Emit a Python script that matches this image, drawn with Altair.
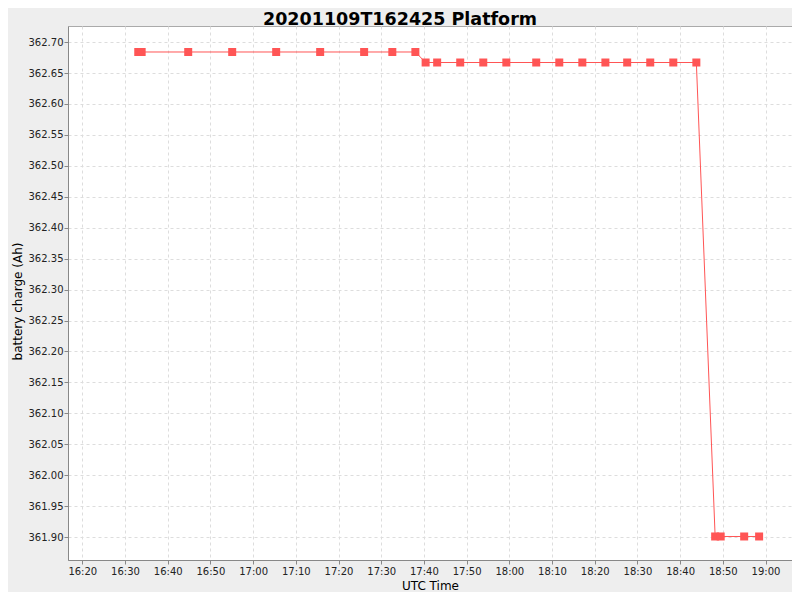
import altair as alt
import pandas as pd

title_text = "20201109T162425 Platform"
times = [
    "16:33:06", "16:33:54", "16:44:48", "16:55:06", "17:05:24", "17:15:42",
    "17:26:00", "17:32:36", "17:38:00", "17:40:24", "17:43:06", "17:48:30",
    "17:53:54", "17:59:18", "18:06:18", "18:11:42", "18:17:06", "18:22:30",
    "18:27:36", "18:33:00", "18:38:24", "18:43:48", "18:48:12", "18:49:30",
    "18:55:00", "18:58:30",
]
charge = [
    362.684, 362.684, 362.684, 362.684, 362.684, 362.684,
    362.684, 362.684, 362.684, 362.667, 362.667, 362.667,
    362.667, 362.667, 362.667, 362.667, 362.667, 362.667,
    362.667, 362.667, 362.667, 362.667, 361.901, 361.901,
    361.901, 361.901,
]
tick_minutes = [(16, 20), (16, 30), (16, 40), (16, 50), (17, 0), (17, 10),
                (17, 20), (17, 30), (17, 40), (17, 50), (18, 0), (18, 10),
                (18, 20), (18, 30), (18, 40), (18, 50), (19, 0)]
y_ticks = [361.90, 361.95, 362.00, 362.05, 362.10, 362.15, 362.20, 362.25,
           362.30, 362.35, 362.40, 362.45, 362.50, 362.55, 362.60, 362.65, 362.70]

df = pd.DataFrame({"t": ["2020-11-09T" + s + "Z" for s in times], "v": charge})
title_df = pd.DataFrame({"label": [title_text]})

def dt(h, m, s=0):
    return alt.DateTime(year=2020, month=11, date=9, hours=h, minutes=m, seconds=s, utc=True)

color = "#FF5555"
font = "DejaVu Sans"

x = alt.X(
    "t:T",
    scale=alt.Scale(type="utc", domain=[dt(16, 16, 39), dt(19, 6, 12)]),
    axis=alt.Axis(
        title="UTC Time", format="%H:%M", values=[dt(h, m) for h, m in tick_minutes],
        labelFlush=False, labelOverlap=False, labelPadding=2,
        titleY=29, titleBaseline="alphabetic",
    ),
)
y = alt.Y(
    "v:Q",
    scale=alt.Scale(domain=[361.863, 362.726], nice=False, zero=False),
    axis=alt.Axis(
        title="battery charge (Ah)", values=y_ticks, format=".2f", labelPadding=1,
        titleX=-47, titleY=275, titleAngle=-90, titleBaseline="alphabetic",
    ),
)

base = alt.Chart(df)
line = base.mark_line(color=color, strokeWidth=1, clip=True).encode(x=x, y=y)
pts = base.mark_point(shape="square", filled=True, size=64, color=color, opacity=1).encode(x=x, y=y)
title_mark = alt.Chart(title_df).mark_text(
    font=font, fontSize=17.5, fontWeight="bold", color="#000000",
    align="center", baseline="alphabetic",
).encode(x=alt.value(332), y=alt.value(-1.5), text="label:N")

chart = (
    alt.layer(line, pts, title_mark)
    .properties(
        width=724, height=534,
        padding={"left": 60, "top": 18, "right": 0, "bottom": 32},
        autosize=alt.AutoSizeParams(type="none"),
        background="#EEEEEE",
    )
    .configure_view(fill="white", stroke="#AAAAAA", strokeWidth=1)
    .configure_axis(
        grid=True, gridColor="#DDDDDD", gridDash=[3, 3], gridWidth=1,
        domainColor="#888888", tickColor="#888888", tickSize=4,
        labelFont=font, labelFontSize=10, labelColor="#222222",
        titleFont=font, titleFontSize=12, titleFontWeight="normal", titleColor="#000000",
    )
)

chart.save("out.html", embed_options={"renderer": "svg", "actions": False})
